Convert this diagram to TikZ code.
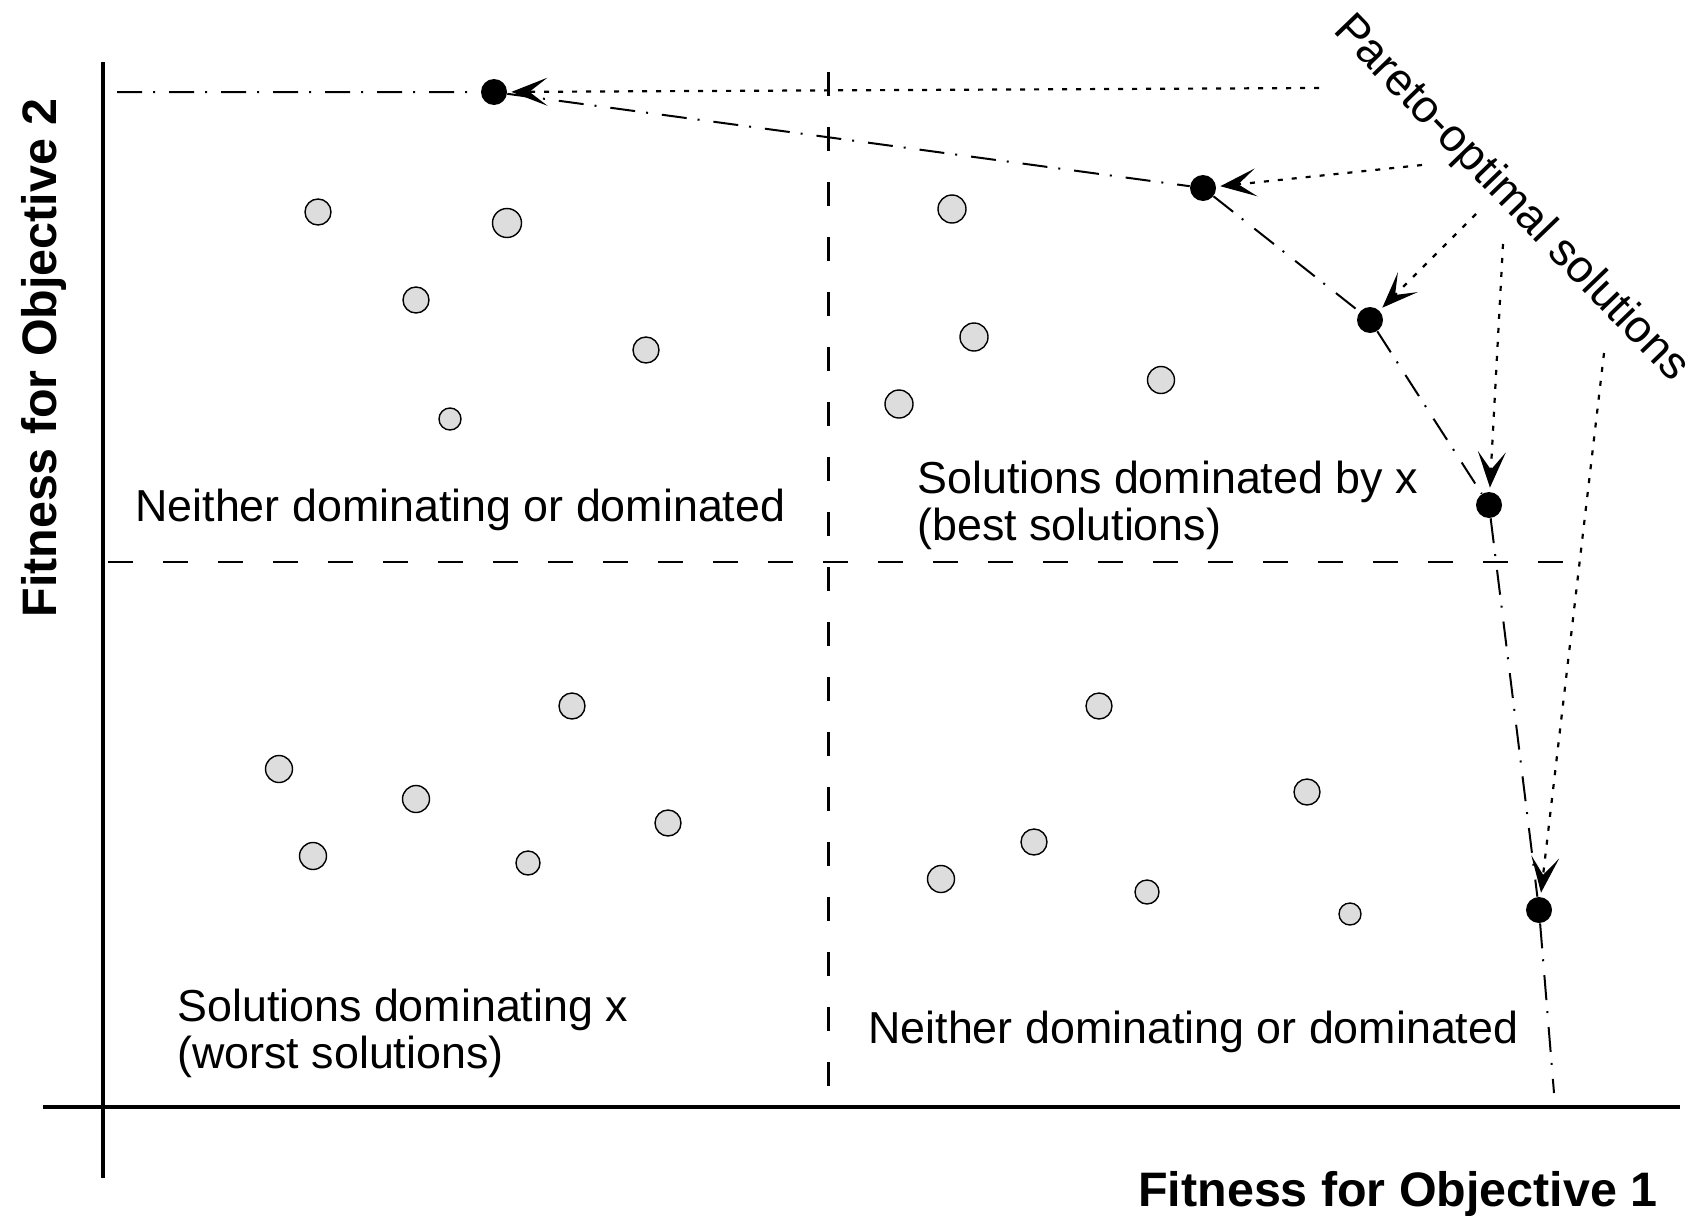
\documentclass[tikz,border=0pt]{standalone}
\usepackage{fontspec}
\setmainfont{Liberation Sans}
\usetikzlibrary{arrows.meta}
\definecolor{ptgray}{RGB}{221,221,221}
\begin{document}
\begin{tikzpicture}[x=0.5pt,y=-0.5pt,
  axis/.style={line width=1.75pt},
  vdash/.style={line width=1.5pt, dash pattern=on 12pt off 15.5pt},
  hdash/.style={line width=1pt, dash pattern=on 12.5pt off 15pt},
  frontier/.style={line width=1pt, dash pattern=on 12.5pt off 5.5pt on 1pt off 7pt},
  pointer/.style={line width=1.1pt, dash pattern=on 2.5pt off 4.5pt,
    -{Stealth[length=18pt,width=14pt,inset=9pt]}, shorten >=2pt},
  sol/.style={circle, fill=black, minimum size=13pt, inner sep=0pt},
  pop/.style={circle, draw=black, line width=0.7pt, fill=ptgray, minimum size=#1, inner sep=0pt},
  pop/.default=13pt,
  lbl/.style={font=\fontsize{22.4pt}{26pt}\selectfont, anchor=base west, inner sep=0pt},
  ttl/.style={font=\fontsize{24.2pt}{28pt}\selectfont\bfseries, inner sep=0pt}
]
\useasboundingbox (0,0) rectangle (1702,1215);

% axes
\coordinate (yb) at (103,1178);
\coordinate (ytop) at (103,62);
\draw[axis] (yb) -- (ytop);
\coordinate (xl) at (43,1107);
\coordinate (xr) at (1680,1107);
\draw[axis] (xl) -- (xr);

% quadrant lines
\coordinate (vt) at (828,72);
\coordinate (vb) at (828,1086);
\draw[vdash] (vt) -- (vb);
\coordinate (hl) at (108,562);
\coordinate (hr) at (1578,562);
\draw[hdash] (hl) -- (hr);

% population
\foreach \x/\y/\s [count=\i] in {
  318/212/13pt, 507/223/14.5pt, 416/300/13pt, 646/350/13pt, 450/419/11pt,
  952/209/14pt, 974/337/14pt, 899/404/14pt, 1161/380/13.5pt,
  572/706/13pt, 279/769/13.5pt, 416/799/13.5pt, 668/823/13pt, 313/856/13.5pt, 528/863/12pt,
  1099/706/13pt, 1307/792/13pt, 1034/842/13pt, 941/879/13.5pt, 1147/892/12pt, 1350/914/11pt}
  \node[pop=\s] (c\i) at (\x,\y) {};

% Pareto front
\node[sol] (p1) at (494,92) {};
\node[sol] (p2) at (1203,188) {};
\node[sol] (p3) at (1370,320) {};
\node[sol] (p4) at (1489,505) {};
\node[sol] (p5) at (1539,910) {};
\coordinate (f0) at (117,92);
\coordinate (f6) at (1554,1093);
\draw[frontier] (f0) -- (p1) -- (p2) -- (p3) -- (p4) -- (p5) -- (f6);

% pointers
\coordinate (a1) at (1319,88);
\coordinate (a2) at (1422,165);
\coordinate (a3) at (1476,214);
\coordinate (a4) at (1503,244);
\coordinate (a5) at (1604,353);
\draw[pointer] (a1) -- (p1);
\draw[pointer] (a2) -- (p2);
\draw[pointer] (a3) -- (p3);
\draw[pointer] (a4) -- (p4);
\draw[pointer] (a5) -- (p5);

% labels
\node[lbl] (nw) at (135,521) {Neither dominating or dominated};
\node[lbl] (ne1) at (917,493) {Solutions dominated by x};
\node[lbl] (ne2) at (917,540) {(best solutions)};
\node[lbl] (sw1) at (177,1021) {Solutions dominating x};
\node[lbl] (sw2) at (177,1068) {(worst solutions)};
\node[lbl] (se) at (868,1043) {Neither dominating or dominated};
\node[lbl, anchor=base, rotate=-46, font=\fontsize{22.8pt}{26pt}\selectfont] (pl) at (1502,207) {Pareto-optimal solutions};
\node[ttl, anchor=base west] (xt) at (1138,1206) {Fitness for Objective 1};
\node[ttl, anchor=base, rotate=90] (yt) at (56,358) {Fitness for Objective 2};
\end{tikzpicture}
\end{document}
